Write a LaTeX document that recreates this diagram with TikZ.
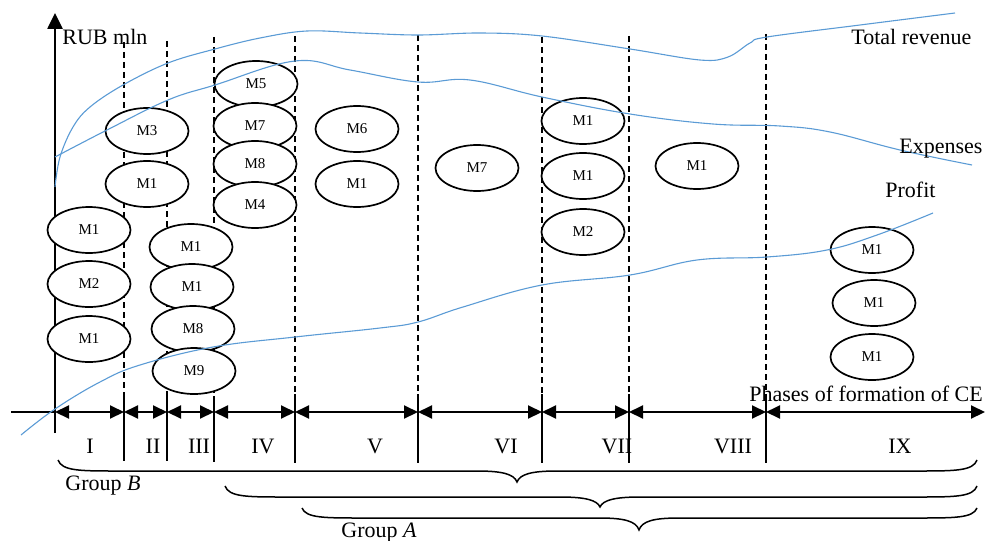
\documentclass[tikz,border=0pt]{standalone}
\usepackage{fontspec}
\setmainfont{Liberation Serif}
\usetikzlibrary{shapes.geometric,arrows.meta}
\definecolor{curveblue}{RGB}{91,155,213}
\begin{document}
\begin{tikzpicture}[x=0.5pt,y=-0.5pt,
 mnode/.style={ellipse,draw,line width=0.85pt,fill=white,minimum width=41.5pt,minimum height=23pt,inner sep=0pt,font=\fontsize{7.5}{8}\selectfont},
 lbl/.style={font=\fontsize{11}{13}\selectfont,inner sep=0pt},
 dashv/.style={line width=0.75pt,dash pattern=on 3pt off 2pt},
 tickv/.style={line width=0.75pt},
 dbl/.style={line width=1pt,{Triangle[length=7pt,width=6.5pt]}-{Triangle[length=7pt,width=6.5pt]}},
 curve/.style={color=curveblue,line width=0.55pt},
 bracel/.style={line width=0.75pt}]
\useasboundingbox (0,0) rectangle (988,540);
% dashed phase borders
\draw[dashv] (124,42) -- (124,398);
\draw[dashv] (167,41) -- (167,398);
\draw[dashv] (214,37) -- (214,398);
\draw[dashv] (295,36) -- (295,398);
\draw[dashv] (418,35) -- (418,398);
\draw[dashv] (542,37) -- (542,398);
\draw[dashv] (629,36) -- (629,398);
\draw[dashv] (766,34) -- (766,398);
% solid ticks
\draw[tickv] (124,396) -- (124,461);
\draw[tickv] (167,396) -- (167,461);
\draw[tickv] (214,396) -- (214,462);
\draw[tickv] (295,394) -- (295,463);
\draw[tickv] (418,394) -- (418,463);
\draw[tickv] (542,394) -- (542,463);
\draw[tickv] (629,394) -- (629,463);
\draw[tickv] (766,394) -- (766,463);
% axes
\coordinate (o) at (55,412);
\coordinate (ylo) at (55,433);
\coordinate (ytop) at (55,13);
\coordinate (xl) at (11,412);
\draw[line width=1.3pt,-{Triangle[length=8pt,width=7.5pt]}] (ylo) -- (ytop);
\draw[line width=1pt] (xl) -- (o);
\coordinate (t1) at (124,412);
\coordinate (t2) at (167,412);
\coordinate (t3) at (214,412);
\coordinate (t4) at (295,412);
\coordinate (t5) at (418,412);
\coordinate (t6) at (542,412);
\coordinate (t7) at (629,412);
\coordinate (t8) at (766,412);
\coordinate (t9) at (985,412);
\draw[dbl] (o) -- (t1);
\draw[dbl] (t1) -- (t2);
\draw[dbl] (t2) -- (t3);
\draw[dbl] (t3) -- (t4);
\draw[dbl] (t4) -- (t5);
\draw[dbl] (t5) -- (t6);
\draw[dbl] (t6) -- (t7);
\draw[dbl] (t7) -- (t8);
\draw[dbl] (t8) -- (t9);
% ellipses
\node[mnode] (a1) at (89,230) {M1};
\node[mnode] (a2) at (89,284) {M2};
\node[mnode] (a3) at (89,339) {M1};
\node[mnode] (b1) at (147,131) {M3};
\node[mnode] (b2) at (147,184) {M1};
\node[mnode] (c1) at (191,247) {M1};
\node[mnode] (c2) at (192,287) {M1};
\node[mnode] (c3) at (193,329) {M8};
\node[mnode] (c4) at (194,371) {M9};
\node[mnode] (d1) at (256,84) {M5};
\node[mnode] (d2) at (255,126) {M7};
\node[mnode] (d3) at (255,164) {M8};
\node[mnode] (d4) at (255,205) {M4};
\node[mnode] (e1) at (357,129) {M6};
\node[mnode] (e2) at (357,184) {M1};
\node[mnode] (f1) at (477,168) {M7};
\node[mnode] (g1) at (583,121) {M1};
\node[mnode] (g2) at (583,176) {M1};
\node[mnode] (g3) at (583,232) {M2};
\node[mnode] (h1) at (697,166) {M1};
\node[mnode] (i1) at (872,250) {M1};
\node[mnode] (i2) at (874,303) {M1};
\node[mnode] (i3) at (872,357) {M1};
% curves
\draw[curve] plot[smooth,tension=0.6] coordinates {(55,187) (60,157) (73,127) (90,107) (123,85) (168,63) (215,49) (260,38) (307,31) (360,33) (418,35) (480,33) (542,36) (630,49) (700,60) (728,57) (750,43) (767,37) (860,25) (955,13)};
\draw[curve] plot[smooth,tension=0.65] coordinates {(55,157) (107,130) (168,100) (215,85) (295,61) (350,70) (418,82) (470,80) (542,97) (630,114) (713,124) (780,126) (830,132) (900,150) (972,165)};
\draw[curve] plot[smooth,tension=0.65] coordinates {(21,435) (55,409) (100,382) (140,365) (213,347) (295,337) (380,328) (418,322) (463,307) (542,285) (630,275) (697,260) (767,257) (827,250) (877,235) (933,213)};
% labels
\node[lbl,anchor=base west] (rub) at (62,45) {RUB mln};
\node[lbl,anchor=base west] (tr) at (851,45) {Total revenue};
\node[lbl,anchor=base west] (ex) at (899,153) {Expenses};
\node[lbl,anchor=base west] (pr) at (885,197) {Profit};
\node[lbl,anchor=base west] (ph) at (749,401) {Phases of formation of CE};
\node[lbl,anchor=base] (r1) at (90,453) {I};
\node[lbl,anchor=base] (r2) at (153,453) {II};
\node[lbl,anchor=base] (r3) at (199,453) {III};
\node[lbl,anchor=base] (r4) at (263,453) {IV};
\node[lbl,anchor=base] (r5) at (375,453) {V};
\node[lbl,anchor=base] (r6) at (506,453) {VI};
\node[lbl,anchor=base] (r7) at (617,453) {VII};
\node[lbl,anchor=base] (r8) at (733,453) {VIII};
\node[lbl,anchor=base] (r9) at (900,453) {IX};
% braces
\draw[bracel] (58,460) .. controls (62,471) and (80,471) .. (118,471) -- (477,471) .. controls (502,471) and (514,474) .. (517,482) .. controls (520,474) and (532,471) .. (557,471) -- (917,471) .. controls (955,471) and (973,471) .. (977,460);
\draw[bracel] (225,486) .. controls (229,497) and (247,497) .. (285,497) -- (560,497) .. controls (585,497) and (597,500) .. (600,507) .. controls (603,500) and (615,497) .. (640,497) -- (917,497) .. controls (955,497) and (973,497) .. (977,486);
\draw[bracel] (302,508) .. controls (306,518) and (324,518) .. (362,518) -- (599,518) .. controls (624,518) and (636,521) .. (639,530) .. controls (642,521) and (654,518) .. (679,518) -- (917,518) .. controls (955,518) and (973,518) .. (977,508);
\node[lbl,anchor=base west] (gb) at (65,490) {Group \textit{B}};
\node[lbl,anchor=base west] (ga) at (341,537) {Group \textit{A}};
\end{tikzpicture}
\end{document}
